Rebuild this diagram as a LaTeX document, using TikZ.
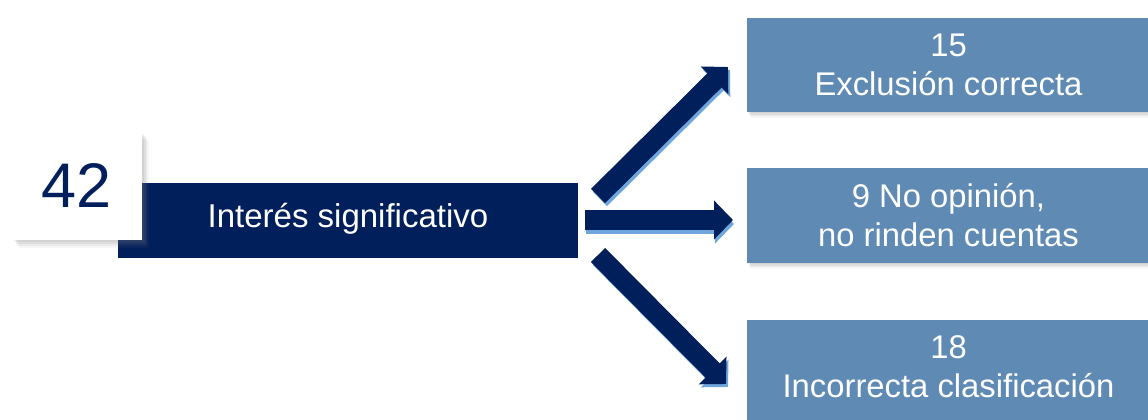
\documentclass[tikz,border=0pt]{standalone}
\usepackage{fontspec}
\setmainfont{Liberation Sans}
\usetikzlibrary{shadows,arrows.meta}
\definecolor{navy}{RGB}{0,31,91}
\definecolor{steel}{RGB}{94,138,180}
\definecolor{lightarrow}{RGB}{110,165,220}
\begin{document}
\begin{tikzpicture}[x=1pt,y=1pt,
  navybar/.style={fill=navy, draw=none, minimum width=460pt, minimum height=75pt, inner sep=0pt, text=white, font=\fontsize{33}{38}\selectfont},
  countshadow/.style={
    drop shadow={shadow xshift=2pt, shadow yshift=-2pt, opacity=0.12},
    drop shadow={shadow xshift=3.5pt, shadow yshift=-4pt, opacity=0.12},
    drop shadow={shadow xshift=5pt, shadow yshift=-6pt, opacity=0.10},
    drop shadow={shadow xshift=6.5pt, shadow yshift=-8pt, opacity=0.07}},
  boxshadow/.style={
    drop shadow={shadow xshift=1pt, shadow yshift=-1.5pt, opacity=0.12},
    drop shadow={shadow xshift=2pt, shadow yshift=-3pt, opacity=0.12},
    drop shadow={shadow xshift=3pt, shadow yshift=-4.5pt, opacity=0.10},
    drop shadow={shadow xshift=4pt, shadow yshift=-6pt, opacity=0.07}},
  countbox/.style={fill=white, minimum width=130pt, minimum height=108pt, inner sep=0pt, text=navy, font=\fontsize{63}{70}\selectfont, countshadow},
  outbox/.style={fill=steel, minimum width=403pt, inner sep=0pt, text=white, align=center, font=\fontsize{32.8}{39}\selectfont, boxshadow},
  flowarrow/.style={line width=20pt, navy, -{Triangle[length=19pt,width=38pt]}},
  flowshadow/.style={line width=20pt, lightarrow, -{Triangle[length=19pt,width=38pt]}},
]
\useasboundingbox (0,0) rectangle (1148,420);
% main bar and count
\node[navybar] (bar) at (348,199.5) {\raisebox{10pt}{Interés significativo}};
\node[countbox] (count) at (77,234) {42};
% outcome boxes
\node[outbox, minimum height=94pt] (ok) at (948.5,355) {15\\Exclusión correcta};
\node[outbox, minimum height=95pt] (noop) at (948.5,204.5) {9 No opinión,\\no rinden cuentas};
\node[outbox, minimum height=100pt] (wrong) at (948.5,50) {\raisebox{4pt}{\begin{tabular}{@{}c@{}}18\\Incorrecta clasificación\end{tabular}}};
% arrow ends
\coordinate (a1s) at (598,224); \coordinate (a1e) at (728,353);
\coordinate (a2s) at (585,200); \coordinate (a2e) at (733,200);
\coordinate (a3s) at (598,165); \coordinate (a3e) at (726,36);
% shadows of arrows
\draw[flowshadow] ([shift={(2,-3)}]a1s) -- ([shift={(2,-3)}]a1e);
\draw[flowshadow] ([shift={(1,-4)}]a2s) -- ([shift={(1,-4)}]a2e);
\draw[flowshadow] ([shift={(2,-3)}]a3s) -- ([shift={(2,-3)}]a3e);
% arrows
\draw[flowarrow] (a1s) -- (a1e);
\draw[flowarrow] (a2s) -- (a2e);
\draw[flowarrow] (a3s) -- (a3e);
\end{tikzpicture}
\end{document}
